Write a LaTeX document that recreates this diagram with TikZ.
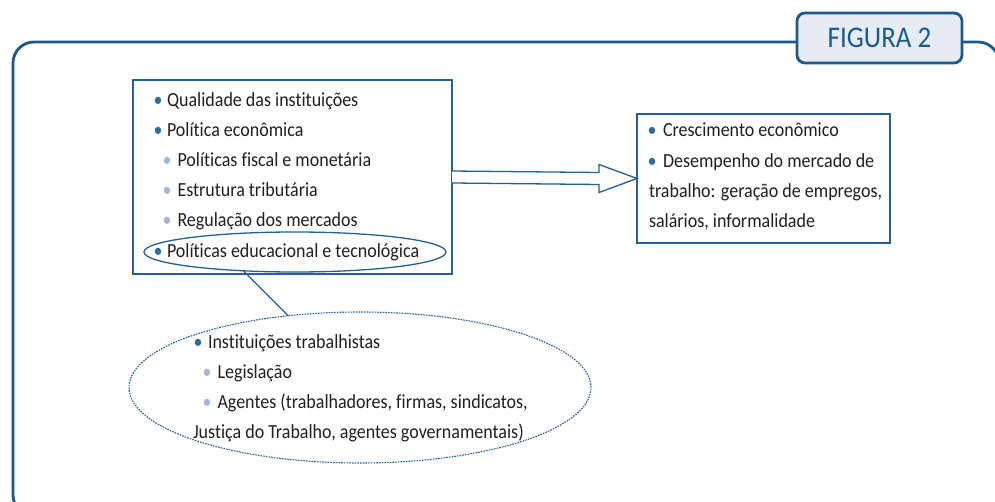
\documentclass[tikz,border=0pt]{standalone}
\usepackage{fontspec}
\setmainfont{Carlito}[FakeStretch=0.9,Ligatures=NoCommon]
\usetikzlibrary{shapes.geometric}
\definecolor{framec}{HTML}{1A5A8E}
\definecolor{boxc}{HTML}{23619A}
\definecolor{tabfill}{HTML}{E7ECF4}
\definecolor{textc}{HTML}{231F20}
\definecolor{bulA}{HTML}{2E6CA4}
\definecolor{bulB}{HTML}{A6B7D4}
\newcommand\bu[2]{\makebox[0pt][c]{\textcolor{#1}{•}}\hspace{#2}}
\begin{document}
\begin{tikzpicture}[x=1pt,y=-1pt,
  txt/.style={anchor=base west, inner sep=0pt, outer sep=0pt, text=textc, font=\fontsize{20}{22}\selectfont},
  boxst/.style={draw=boxc, line width=1.3pt, fill=white, inner sep=0pt, outer sep=0pt, anchor=north west},
  conn/.style={draw=boxc, line width=1.3pt},
  framest/.style={draw=framec, line width=2.8pt, rounded corners=21pt, inner sep=0pt, outer sep=0pt, anchor=north west},
  tabst/.style={draw=framec, line width=2.8pt, fill=tabfill, rounded corners=8pt, inner sep=0pt, outer sep=0pt, minimum width=165pt, minimum height=50pt, text=framec, font=\fontsize{30}{32}\selectfont},
  ell/.style={ellipse, draw=boxc, inner sep=0pt, outer sep=0pt}
]
\useasboundingbox (0,0) rectangle (995,502);
\fill[white] (0,0) rectangle (995,502);
% outer frame and tab
\node[framest, minimum width=986pt, minimum height=474pt] (frame) at (13,42) {};
\node[tabst] (fig) at (879.5,38) {FIGURA 2};
% boxes
\node[boxst, minimum width=319pt, minimum height=194pt] (L) at (133,80) {};
\node[boxst, minimum width=253pt, minimum height=129pt] (R) at (637,114) {};
% left box text
\node[txt] (l1) at (158,107) {\bu{bulA}{9pt}Qualidade das instituições};
\node[txt] (l2) at (158,137) {\bu{bulA}{9pt}Política econômica};
\node[txt] (l3) at (167,167) {\bu{bulB}{10.5pt}Políticas fiscal e monetária};
\node[txt] (l4) at (167,197) {\bu{bulB}{10.5pt}Estrutura tributária};
\node[txt] (l5) at (167,227) {\bu{bulB}{10.5pt}Regulação dos mercados};
\node[txt] (l6) at (158,258) {\bu{bulA}{9pt}Políticas educacional e tecnológica};
% right box text
\node[txt] (r1) at (652,137) {\bu{bulA}{11pt}Crescimento econômico};
\node[txt] (r2) at (652,168) {\bu{bulA}{11pt}Desempenho do mercado de};
\node[txt] (r3) at (649,198) {trabalho: geração de empregos,};
\node[txt] (r4) at (649,228) {salários, informalidade};
% ellipses
\node[ell, line width=1.3pt, minimum width=302pt, minimum height=40pt] (E1) at (295,252) {};
\node[ell, line width=1.1pt, dash pattern=on 1.6pt off 1.1pt, minimum width=462pt, minimum height=151pt] (E2) at (360,387.5) {};
% dashed ellipse text
\node[txt] (e1) at (198,348) {\bu{bulA}{10pt}Instituições trabalhistas};
\node[txt] (e2) at (207,378) {\bu{bulB}{10.5pt}Legislação};
\node[txt] (e3) at (207,408) {\bu{bulB}{10.5pt}Agentes (trabalhadores, firmas, sindicatos,};
\node[txt] (e4) at (193,438) {Justiça do Trabalho, agentes governamentais)};
% connector between ellipses
\draw[conn] (E1.200) -- (E2.135);
% hollow arrow
\draw[conn, fill=white, line join=miter]
  ([yshift=6pt]L.east) -- ([xshift=-38pt,yshift=6pt]R.west)
  -- ([xshift=-38pt,yshift=14pt]R.west) -- (R.west)
  -- ([xshift=-38pt,yshift=-14pt]R.west) -- ([xshift=-38pt,yshift=-6pt]R.west)
  -- ([yshift=-6pt]L.east);
\end{tikzpicture}
\end{document}
